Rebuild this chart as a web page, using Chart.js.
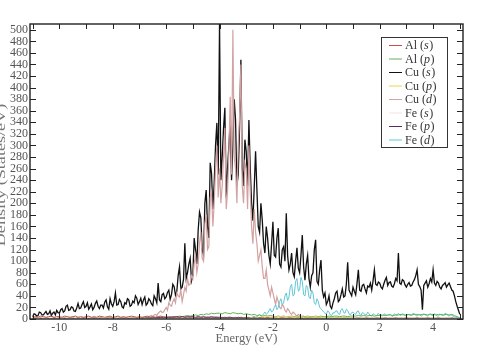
<!DOCTYPE html>
<html>
<head>
<meta charset="utf-8">
<script src="https://cdn.jsdelivr.net/npm/chart.js@4.4.1/dist/chart.umd.min.js"></script>
<style>
html,body{margin:0;padding:0;background:#fff;}
#wrap{width:485px;height:360px;position:relative;}
</style>
</head>
<body>
<div id="wrap"><canvas id="c" width="485" height="360"></canvas></div>
<script>
// ---- data ----
// coarse energy grid (0.1 eV) for the small partial DOS curves
const energy = [
-11.0,-10.9,-10.8,-10.7,-10.6,-10.5,-10.4,-10.3,-10.2,-10.1,
-10.0,-9.9,-9.8,-9.7,-9.6,-9.5,-9.4,-9.3,-9.2,-9.1,
-9.0,-8.9,-8.8,-8.7,-8.6,-8.5,-8.4,-8.3,-8.2,-8.1,
-8.0,-7.9,-7.8,-7.7,-7.6,-7.5,-7.4,-7.3,-7.2,-7.1,
-7.0,-6.9,-6.8,-6.7,-6.6,-6.5,-6.4,-6.3,-6.2,-6.1,
-6.0,-5.9,-5.8,-5.7,-5.6,-5.5,-5.4,-5.3,-5.2,-5.1,
-5.0,-4.9,-4.8,-4.7,-4.6,-4.5,-4.4,-4.3,-4.2,-4.1,
-4.0,-3.9,-3.8,-3.7,-3.6,-3.5,-3.4,-3.3,-3.2,-3.1,
-3.0,-2.9,-2.8,-2.7,-2.6,-2.5,-2.4,-2.3,-2.2,-2.1,
-2.0,-1.9,-1.8,-1.7,-1.6,-1.5,-1.4,-1.3,-1.2,-1.1,
-1.0,-0.9,-0.8,-0.7,-0.6,-0.5,-0.4,-0.3,-0.2,-0.1,
0.0,0.1,0.2,0.3,0.4,0.5,0.6,0.7,0.8,0.9,
1.0,1.1,1.2,1.3,1.4,1.5,1.6,1.7,1.8,1.9,
2.0,2.1,2.2,2.3,2.4,2.5,2.6,2.7,2.8,2.9,
3.0,3.1,3.2,3.3,3.4,3.5,3.6,3.7,3.8,3.9,
4.0,4.1,4.2,4.3,4.4,4.5,4.6,4.7,4.8,4.9,
5.0];

// fine energy grid (0.05 eV) for the spiky curves
const energyFine = [
-11.00,-10.95,-10.90,-10.85,-10.80,-10.75,-10.70,-10.65,-10.60,-10.55,-10.50,-10.45,-10.40,-10.35,-10.30,-10.25,-10.20,-10.15,-10.10,-10.05,
-10.00,-9.95,-9.90,-9.85,-9.80,-9.75,-9.70,-9.65,-9.60,-9.55,-9.50,-9.45,-9.40,-9.35,-9.30,-9.25,-9.20,-9.15,-9.10,-9.05,
-9.00,-8.95,-8.90,-8.85,-8.80,-8.75,-8.70,-8.65,-8.60,-8.55,-8.50,-8.45,-8.40,-8.35,-8.30,-8.25,-8.20,-8.15,-8.10,-8.05,
-8.00,-7.95,-7.90,-7.85,-7.80,-7.75,-7.70,-7.65,-7.60,-7.55,-7.50,-7.45,-7.40,-7.35,-7.30,-7.25,-7.20,-7.15,-7.10,-7.05,
-7.00,-6.95,-6.90,-6.85,-6.80,-6.75,-6.70,-6.65,-6.60,-6.55,-6.50,-6.45,-6.40,-6.35,-6.30,-6.25,-6.20,-6.15,-6.10,-6.05,
-6.00,-5.95,-5.90,-5.85,-5.80,-5.75,-5.70,-5.65,-5.60,-5.55,-5.50,-5.45,-5.40,-5.35,-5.30,-5.25,-5.20,-5.15,-5.10,-5.05,
-5.00,-4.95,-4.90,-4.85,-4.80,-4.75,-4.70,-4.65,-4.60,-4.55,-4.50,-4.45,-4.40,-4.35,-4.30,-4.25,-4.20,-4.15,-4.10,-4.05,
-4.00,-3.95,-3.90,-3.85,-3.80,-3.75,-3.70,-3.65,-3.60,-3.55,-3.50,-3.45,-3.40,-3.35,-3.30,-3.25,-3.20,-3.15,-3.10,-3.05,
-3.00,-2.95,-2.90,-2.85,-2.80,-2.75,-2.70,-2.65,-2.60,-2.55,-2.50,-2.45,-2.40,-2.35,-2.30,-2.25,-2.20,-2.15,-2.10,-2.05,
-2.00,-1.95,-1.90,-1.85,-1.80,-1.75,-1.70,-1.65,-1.60,-1.55,-1.50,-1.45,-1.40,-1.35,-1.30,-1.25,-1.20,-1.15,-1.10,-1.05,
-1.00,-0.95,-0.90,-0.85,-0.80,-0.75,-0.70,-0.65,-0.60,-0.55,-0.50,-0.45,-0.40,-0.35,-0.30,-0.25,-0.20,-0.15,-0.10,-0.05,
0.00,0.05,0.10,0.15,0.20,0.25,0.30,0.35,0.40,0.45,0.50,0.55,0.60,0.65,0.70,0.75,0.80,0.85,0.90,0.95,
1.00,1.05,1.10,1.15,1.20,1.25,1.30,1.35,1.40,1.45,1.50,1.55,1.60,1.65,1.70,1.75,1.80,1.85,1.90,1.95,
2.00,2.05,2.10,2.15,2.20,2.25,2.30,2.35,2.40,2.45,2.50,2.55,2.60,2.65,2.70,2.75,2.80,2.85,2.90,2.95,
3.00,3.05,3.10,3.15,3.20,3.25,3.30,3.35,3.40,3.45,3.50,3.55,3.60,3.65,3.70,3.75,3.80,3.85,3.90,3.95,
4.00,4.05,4.10,4.15,4.20,4.25,4.30,4.35,4.40,4.45,4.50,4.55,4.60,4.65,4.70,4.75,4.80,4.85,4.90,4.95,
5.00];

const alS = [
3,4,3,5,4,3,4,5,3,4,
4,3,5,4,3,4,5,3,4,3,
4,5,3,4,3,5,4,3,4,5,
3,4,5,3,4,3,4,5,4,3,
4,3,4,5,3,4,3,4,5,4,
3,4,3,4,3,3,4,3,3,4,
3,2,3,3,2,3,3,2,3,3,
2,3,2,3,3,2,3,2,3,2,
3,2,2,3,2,2,3,2,2,2,
2,2,1,2,2,1,2,2,1,2,
2,1,2,1,2,1,1,2,1,1,
1,2,1,1,2,1,1,2,1,1,
1,1,2,1,1,2,1,1,1,2,
1,1,2,1,1,1,2,1,1,1,
2,1,1,1,2,1,1,1,2,1,
1,1,2,1,1,1,1,2,1,1,
1];

const alP = [
1,2,1,2,1,2,1,1,2,1,
2,1,2,1,2,2,1,2,1,2,
2,1,2,2,1,2,2,1,2,2,
2,2,1,2,2,2,1,2,2,2,
2,2,3,2,3,2,3,3,2,3,
3,3,4,3,4,5,4,5,6,5,
6,7,6,8,7,9,8,10,9,10,
10,9,11,10,9,11,10,9,10,8,
9,8,7,8,6,7,5,6,5,6,
5,4,5,4,5,4,4,5,4,5,
4,5,4,5,4,4,5,4,5,4,
4,5,4,5,5,4,5,5,4,5,
5,5,6,5,6,5,6,6,5,6,
6,7,6,7,7,6,7,7,8,7,
7,8,7,8,8,7,8,8,7,8,
8,7,8,8,7,8,7,8,6,4,
2];

const cuS = [
4,9,8,5,6,12,11,7,7,10,13,8,9,14,6,10,12,7,15,11,
10,16,18,12,14,22,24,15,16,21,20,14,13,19,27,18,19,25,30,20,
22,28,17,21,26,16,20,27,31,22,18,24,24,19,29,33,21,17,35,26,
22,30,45,24,25,34,30,21,19,28,26,35,33,22,24,31,28,40,36,25,
30,36,25,33,38,24,27,35,32,26,23,40,35,28,62,33,30,42,44,35,
38,46,50,34,42,60,56,41,48,75,90,52,55,68,131,70,80,95,105,66,
75,140,120,95,154,185,175,120,110,200,223,160,140,270,252,190,235,300,339,250,
510,240,280,330,365,210,260,300,339,240,300,380,344,230,250,330,448,260,230,310,
290,230,344,260,200,170,228,290,223,160,150,200,171,130,114,160,140,110,95,130,
168,110,107,140,157,95,90,120,125,100,183,110,85,95,114,80,73,100,123,88,
80,110,145,90,67,95,110,70,55,75,80,120,137,65,60,85,102,50,38,45,
25,30,40,22,18,28,35,45,48,30,33,42,52,38,40,60,98,50,45,40,
55,48,42,62,85,50,48,58,60,52,45,57,55,62,50,66,85,60,58,64,
62,55,52,60,67,72,58,63,64,57,55,61,70,66,114,62,60,68,66,59,
55,60,63,57,58,64,68,75,85,60,56,50,16,58,62,66,55,61,70,64,
85,62,58,65,62,55,52,58,60,63,55,59,62,56,50,48,40,30,22,15,
8];

const cuP = [
0,1,0,1,0,0,1,0,1,0,
1,0,1,0,1,1,0,1,0,1,
0,1,1,0,1,0,1,1,0,1,
1,0,1,1,0,1,1,0,1,1,
1,1,0,1,1,1,1,0,1,1,
1,1,1,1,1,1,1,1,1,1,
1,1,1,1,1,1,1,1,1,1,
1,1,2,1,2,1,2,2,1,2,
2,3,2,3,2,3,4,3,4,3,
4,3,5,4,5,4,5,4,3,4,
3,4,3,4,3,3,4,3,3,2,
2,3,2,2,3,2,2,3,2,2,
2,1,2,1,2,1,1,2,1,1,
1,2,1,1,2,1,1,1,2,1,
1,1,2,1,1,1,2,1,1,1,
1,2,1,1,1,2,1,1,1,1,
1];

const cuD = [
1,0,1,1,0,1,1,0,1,1,0,1,1,1,0,1,1,0,1,1,
1,1,0,1,1,0,1,1,1,0,1,1,0,1,1,1,0,1,1,1,
1,0,1,1,1,0,1,1,0,1,1,1,1,0,1,1,1,0,1,1,
1,1,0,1,1,1,1,0,1,1,1,1,1,0,1,1,1,1,1,1,
1,1,1,2,2,3,3,4,5,6,4,7,8,6,10,12,14,11,12,16,
20,15,28,24,22,30,35,28,45,40,38,50,30,42,55,48,70,58,60,75,
70,95,110,80,95,130,150,105,100,165,180,120,125,210,220,160,200,260,300,210,
260,200,230,280,330,190,220,290,384,250,500,280,260,200,300,350,440,230,200,270,
260,190,300,220,160,130,190,150,130,100,110,120,90,70,70,85,60,50,40,55,
45,35,25,38,30,20,18,25,22,15,12,18,15,10,8,12,10,7,5,8,
6,4,3,5,4,3,2,3,3,2,2,1,2,1,2,1,1,2,1,1,
1,1,1,1,1,1,1,1,1,1,1,1,1,1,1,1,1,1,1,1,
1,1,1,1,1,1,1,1,1,1,1,1,1,1,1,1,1,1,1,1,
1,1,1,1,1,1,1,1,1,1,1,1,1,1,1,1,1,1,1,1,
1,1,1,1,1,1,1,1,1,1,1,1,1,1,1,1,1,1,1,1,
1,1,1,1,1,1,1,1,1,1,1,1,1,1,1,1,1,1,1,1,
1];

const feS = [
1,0,1,0,1,1,0,1,0,1,
0,1,0,1,1,0,1,0,1,0,
1,0,1,0,1,0,1,1,0,1,
0,1,0,1,0,1,0,1,1,0,
1,0,1,1,0,1,1,0,1,1,
1,1,1,1,1,1,1,1,1,1,
1,1,1,1,1,1,1,1,1,1,
1,1,1,1,1,1,1,1,1,1,
1,1,1,1,1,1,1,1,1,1,
1,1,1,1,1,1,1,1,1,1,
1,1,1,1,1,1,1,1,1,1,
1,1,1,1,1,1,1,1,1,1,
1,1,1,1,1,1,1,1,1,1,
1,1,1,1,1,1,1,1,1,1,
1,1,1,1,1,1,1,1,1,1,
1,1,1,1,1,1,1,1,1,1,
1];

const feP = [
0,1,0,1,0,1,0,0,1,0,
1,0,1,0,1,0,1,0,1,1,
0,1,0,1,1,0,1,0,1,1,
1,0,1,1,0,1,1,1,0,1,
1,1,1,2,1,2,2,2,3,2,
3,2,3,3,4,3,4,3,4,3,
4,3,4,3,4,3,3,4,3,3,
3,2,3,2,3,2,2,3,2,2,
2,2,1,2,1,2,1,1,2,1,
1,1,1,1,1,1,1,1,1,1,
1,1,1,1,1,1,1,1,1,1,
1,1,1,1,1,1,1,1,1,1,
1,1,1,1,1,1,1,1,1,1,
1,1,1,1,1,1,1,1,1,1,
1,1,1,1,1,1,1,1,1,1,
1,1,1,1,1,1,1,1,1,1,
1];

const feD = [
0,1,0,0,1,0,1,0,0,1,0,1,0,0,1,0,0,1,0,1,
0,1,0,1,0,0,1,0,1,0,1,0,0,1,0,1,0,0,1,0,
1,0,0,1,0,1,0,1,0,1,0,1,1,0,1,0,1,1,0,1,
0,1,1,0,1,0,1,1,0,1,1,0,1,1,0,1,1,1,0,1,
1,0,1,1,0,1,1,1,0,1,1,1,1,0,1,1,1,2,1,1,
1,1,0,1,1,1,1,2,1,1,1,2,1,1,2,1,1,2,1,2,
1,2,1,1,2,1,1,2,1,2,1,2,1,2,2,1,2,2,1,2,
1,2,1,2,2,1,2,2,1,2,2,1,2,2,1,2,2,1,2,2,
2,3,3,2,2,4,5,3,4,6,8,5,6,9,12,8,10,14,18,12,
14,20,25,16,20,30,35,24,28,40,45,32,38,55,60,40,42,65,70,48,
50,72,65,42,40,58,55,38,35,50,45,28,25,35,30,20,18,15,12,10,
8,14,12,7,6,11,10,14,14,9,8,16,18,11,10,17,15,9,7,11,
12,9,8,13,14,8,6,11,10,7,7,12,9,6,5,9,8,6,6,10,
7,6,5,8,9,6,6,8,8,5,5,9,7,6,10,7,6,9,8,6,
5,8,7,6,6,10,9,6,5,7,8,5,6,9,7,6,5,8,9,6,
6,9,8,5,5,8,7,6,6,10,9,6,5,7,6,5,4,3,3,2,
2];

const xTickLabels = [-10,-8,-6,-4,-2,0,2,4];
const xTickMarks = [-11,-10,-9,-8,-7,-6,-5,-4,-3,-2,-1,0,1,2,3,4,5];
const yTickLabels = [0,20,40,60,80,100,120,140,160,180,200,220,240,260,280,300,320,340,360,380,400,420,440,460,480,500];
const legendElements = ['Al','Al','Cu','Cu','Cu','Fe','Fe','Fe'];
const legendOrbitals = ['s','p','s','p','d','s','p','d'];

// ---- chart ----
const serif = '"Liberation Serif", "Times New Roman", serif';
const pts = (xs, arr) => xs.map((e,i)=>({x:e, y:arr[i]}));

const series = [
  {x:energy,     data:alS, color:'#cc4a4a', order:4, w:1},
  {x:energy,     data:alP, color:'#5fb35a', order:5, w:1},
  {x:energyFine, data:cuS, color:'#111111', order:8, w:1.3},
  {x:energy,     data:cuP, color:'#e8d84a', order:3, w:1},
  {x:energyFine, data:cuD, color:'#d3a2a2', order:7, w:1.2},
  {x:energy,     data:feS, color:'#efe4e4', order:1, w:1},
  {x:energy,     data:feP, color:'#5a2d5e', order:2, w:1},
  {x:energyFine, data:feD, color:'#62c6d6', order:6, w:1}
];

const decor = {
  id:'decor',
  afterDraw(chart){
    const ctx = chart.ctx;
    const {left,right,top,bottom} = chart.chartArea;
    const x = chart.scales.x, y = chart.scales.y;
    ctx.save();
    ctx.strokeStyle = '#222';
    ctx.lineWidth = 1;
    ctx.beginPath();
    xTickMarks.forEach(v=>{
      const p = Math.round(x.getPixelForValue(v)) + 0.5;
      if (p < left || p > right) return;
      ctx.moveTo(p,bottom); ctx.lineTo(p,bottom-5);
      ctx.moveTo(p,top); ctx.lineTo(p,top+5);
    });
    yTickLabels.forEach(v=>{
      const p = Math.round(y.getPixelForValue(v)) + 0.5;
      ctx.moveTo(left,p); ctx.lineTo(left+6,p);
      ctx.moveTo(right,p); ctx.lineTo(right-6,p);
    });
    ctx.stroke();
    ctx.lineWidth = 1.4;
    ctx.strokeRect(left,top,right-left,bottom-top);

    // legend box
    const bx=381, by=37, bw=66, bh=110;
    ctx.fillStyle='#fff';
    ctx.fillRect(bx,by,bw,bh);
    ctx.lineWidth=1;
    ctx.strokeStyle='#333';
    ctx.strokeRect(bx+0.5,by+0.5,bw,bh);
    legendElements.forEach((el,i)=>{
      const yy = 45.5 + i*13.5;
      ctx.strokeStyle = series[i].color;
      ctx.lineWidth = 1;
      ctx.beginPath(); ctx.moveTo(389,yy); ctx.lineTo(402,yy); ctx.stroke();
      ctx.fillStyle='#333';
      ctx.textBaseline='middle';
      ctx.textAlign='left';
      ctx.font = '12px ' + serif;
      let tx = 405;
      const a = el + ' (';
      ctx.fillText(a, tx, yy+0.5); tx += ctx.measureText(a).width;
      ctx.font = 'italic 12px ' + serif;
      ctx.fillText(legendOrbitals[i], tx, yy+0.5); tx += ctx.measureText(legendOrbitals[i]).width + 0.5;
      ctx.font = '12px ' + serif;
      ctx.fillText(')', tx, yy+0.5);
    });

    // y axis title (stretched like the reference, partly cut at the left edge)
    ctx.translate(2, 175);
    ctx.rotate(-Math.PI/2);
    ctx.scale(1.45,1);
    ctx.fillStyle='#777';
    ctx.font = '12.5px ' + serif;
    ctx.textAlign='center';
    ctx.textBaseline='middle';
    ctx.fillText('Density (States/eV)', 0, 0);
    ctx.restore();
  }
};

new Chart(document.getElementById('c'), {
  type:'line',
  data:{
    datasets: series.map((s,i)=>({
      label: legendElements[i] + ' (' + legendOrbitals[i] + ')',
      data: pts(s.x, s.data),
      borderColor: s.color,
      backgroundColor: s.color,
      borderWidth: s.w,
      pointRadius: 0,
      tension: 0,
      fill: false,
      order: s.order
    }))
  },
  options:{
    responsive:false,
    animation:false,
    devicePixelRatio:1,
    layout:{padding:{left:0,top:24,right:22,bottom:0}},
    plugins:{legend:{display:false}, tooltip:{enabled:false}},
    scales:{
      x:{
        type:'linear', min:-11.1, max:5.12,
        grid:{display:false, drawTicks:false},
        border:{display:false},
        afterBuildTicks: s => { s.ticks = xTickLabels.map(v=>({value:v})); },
        afterFit: s => { s.height = 41; },
        ticks:{autoSkip:false, maxRotation:0, padding:2, color:'#555', font:{family:serif, size:12}},
        title:{display:true, text:'Energy (eV)', color:'#666', font:{family:serif, size:12.5}, padding:{top:0,bottom:14}}
      },
      y:{
        type:'linear', min:0, max:510,
        grid:{display:false, drawTicks:false},
        border:{display:false},
        afterBuildTicks: s => { s.ticks = yTickLabels.map(v=>({value:v})); },
        afterFit: s => { s.width = 30; },
        ticks:{autoSkip:false, padding:2, color:'#555', font:{family:serif, size:12}}
      }
    }
  },
  plugins:[decor]
});
</script>
</body>
</html>
